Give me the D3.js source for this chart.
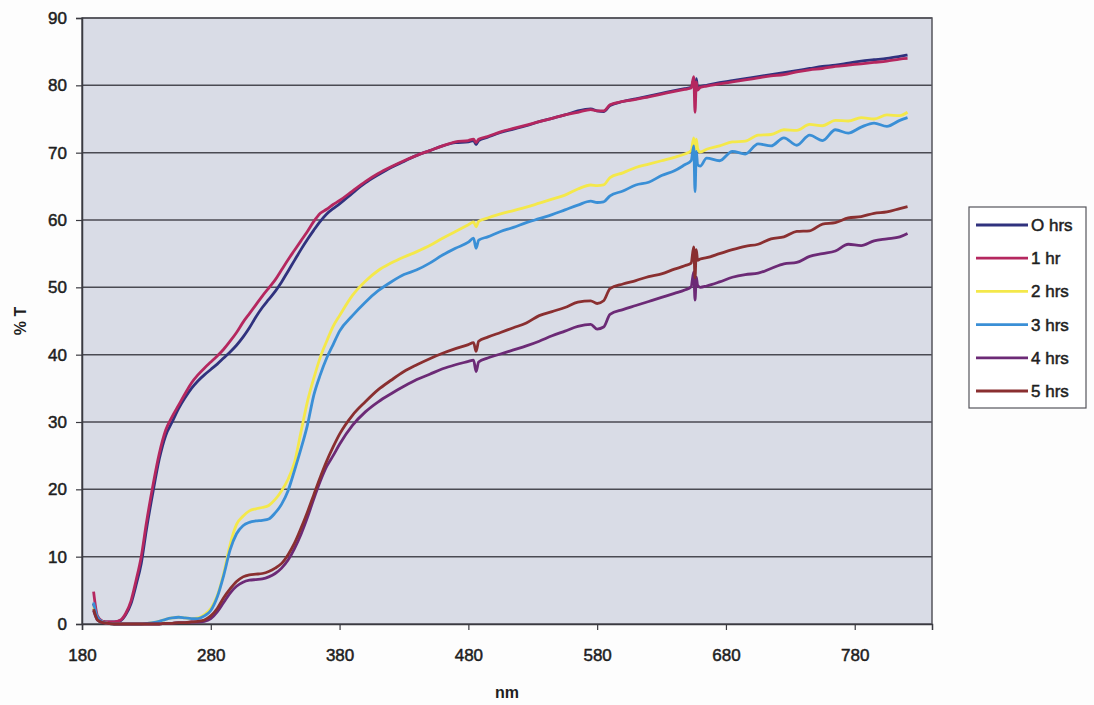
<!DOCTYPE html>
<html>
<head>
<meta charset="utf-8">
<script src="https://cdn.jsdelivr.net/npm/d3@7"></script>
<style>
  body { margin: 0; background: #fdfdfd; }
  svg { display: block; }
</style>
</head>
<body>
<svg id="chart" width="1094" height="705"></svg>
<script>
// wavelengths (nm) shared by every series
const nm = [189,192,196,200,205,210,214,218,222,226,
  230,235,240,245,250,255,260,265,270,275,
  280,285,290,295,300,305,310,315,320,325,
  330,335,340,345,350,355,360,365,370,375,
  380,390,400,410,420,430,440,450,460,470,
  480,484,486,488,495,505,515,525,535,545,
  555,565,575,580,585,590,600,610,620,630,
  640,648,653,655,656,657,658,660,665,675,
  685,695,705,715,725,735,745,755,765,775,
  785,795,805,815,821]

const hrs0 = [3.0,1.0,0.4,0.3,0.3,0.5,1.4,3.0,5.8,9.0,
  14.0,19.5,24.5,28.0,30.0,32.0,33.6,35.0,36.1,37.0,
  37.8,38.6,39.5,40.4,41.4,42.6,44.0,45.6,47.0,48.2,
  49.4,50.8,52.4,54.0,55.6,57.1,58.5,59.8,60.9,61.7,
  62.4,64.0,65.5,66.7,67.8,68.7,69.6,70.3,71.0,71.5,
  71.6,71.8,71.2,71.8,72.3,73.0,73.5,74.0,74.6,75.1,
  75.6,76.2,76.5,76.2,76.1,77.0,77.6,78.0,78.4,78.8,
  79.2,79.5,79.7,80.8,78.5,81.0,79.6,79.8,80.0,80.4,
  80.7,81.0,81.3,81.6,81.9,82.2,82.5,82.8,83.0,83.3,
  83.6,83.8,84.0,84.3,84.5]

const hrs1 = [4.8,1.2,0.4,0.3,0.3,0.6,1.6,3.4,6.5,10.0,
  15.0,20.5,25.3,28.8,30.8,32.5,34.2,35.8,37.0,38.0,
  38.9,39.8,40.8,42.0,43.3,44.8,46.1,47.4,48.7,49.9,
  51.1,52.6,54.1,55.5,56.9,58.3,59.8,61.0,61.6,62.3,
  62.9,64.3,65.7,66.9,67.9,68.8,69.6,70.3,71.0,71.6,
  71.8,72.0,71.5,72.0,72.4,73.1,73.6,74.1,74.6,75.1,
  75.6,76.0,76.4,76.2,76.2,77.1,77.6,77.9,78.3,78.7,
  79.1,79.4,79.6,81.3,76.0,80.5,79.3,79.7,79.9,80.2,
  80.5,80.8,81.1,81.4,81.6,82.0,82.3,82.5,82.8,83.0,
  83.2,83.4,83.6,83.9,84.0]

const hrs2 = [2.5,0.8,0.3,0.1,0.0,0.0,0.0,0.0,0.0,0.0,
  0.1,0.2,0.4,0.7,0.9,1.0,0.9,0.8,0.9,1.4,
  2.3,4.2,7.5,11.8,14.8,16.0,16.8,17.1,17.3,17.6,
  18.5,19.8,21.5,24.0,28.5,33.0,36.5,39.6,42.0,44.2,
  45.8,48.8,50.9,52.5,53.6,54.5,55.3,56.2,57.3,58.3,
  59.3,59.7,59.0,59.8,60.3,60.9,61.4,61.9,62.5,63.1,
  63.7,64.6,65.2,65.1,65.2,66.3,67.0,67.8,68.3,68.8,
  69.3,69.8,70.3,72.2,70.2,72.0,70.6,70.1,70.5,71.0,
  71.6,71.7,72.6,72.7,73.4,73.3,74.2,74.0,74.8,74.7,
  75.2,75.0,75.6,75.5,76.0]

const hrs3 = [3.2,1.0,0.3,0.1,0.0,0.0,0.0,0.0,0.0,0.0,
  0.1,0.2,0.4,0.7,0.9,1.0,0.9,0.8,0.8,1.2,
  2.0,4.0,7.2,11.0,13.4,14.6,15.1,15.3,15.4,15.6,
  16.5,17.8,19.8,22.8,26.0,29.5,34.0,37.0,39.5,41.5,
  43.5,45.8,47.8,49.5,50.8,51.9,52.6,53.6,54.8,55.8,
  56.7,57.3,55.8,57.0,57.5,58.3,58.9,59.6,60.2,60.8,
  61.5,62.2,62.8,62.6,62.7,63.6,64.3,65.2,65.6,66.6,
  67.3,68.2,68.8,71.0,64.2,70.2,68.2,68.0,69.2,68.8,
  70.2,69.8,71.3,71.0,72.2,71.1,72.6,71.8,73.4,72.9,
  73.8,74.4,73.9,74.8,75.2]

const hrs4 = [2.0,0.6,0.2,0.1,0.0,0.0,0.0,0.0,0.0,0.0,
  0.0,0.0,0.0,0.1,0.1,0.2,0.2,0.3,0.3,0.4,
  0.8,1.8,3.2,4.6,5.6,6.2,6.5,6.6,6.7,7.0,
  7.5,8.3,9.5,11.2,13.3,15.8,18.6,21.2,23.4,25.0,
  26.7,29.5,31.5,33.0,34.2,35.3,36.3,37.1,37.9,38.5,
  39.0,39.2,37.5,38.9,39.5,40.1,40.7,41.3,42.0,42.8,
  43.5,44.2,44.5,43.8,44.1,46.0,46.7,47.3,47.9,48.5,
  49.1,49.6,50.1,52.3,48.1,51.5,50.3,50.0,50.2,50.8,
  51.5,51.9,52.1,52.8,53.5,53.7,54.6,55.0,55.4,56.4,
  56.2,56.9,57.2,57.5,58.0]

const hrs5 = [2.2,0.6,0.2,0.1,0.0,0.0,0.0,0.0,0.0,0.0,
  0.0,0.0,0.0,0.1,0.1,0.2,0.2,0.3,0.4,0.6,
  1.2,2.3,3.9,5.2,6.3,7.0,7.3,7.4,7.5,7.8,
  8.3,9.0,10.3,12.0,14.2,16.6,19.2,21.8,24.2,26.3,
  28.2,31.0,33.0,34.8,36.2,37.5,38.5,39.4,40.2,40.9,
  41.5,41.8,40.5,42.0,42.6,43.3,44.0,44.7,45.8,46.4,
  47.0,47.8,48.0,47.6,48.0,49.8,50.5,51.0,51.6,52.0,
  52.7,53.2,53.6,56.0,51.4,55.6,54.0,54.2,54.4,55.0,
  55.6,56.1,56.4,57.2,57.5,58.3,58.4,59.4,59.6,60.3,
  60.5,61.0,61.2,61.7,62.0]

const seriesNames = ['O hrs', '1 hr', '2 hrs', '3 hrs', '4 hrs', '5 hrs']
const seriesValues = [hrs0, hrs1, hrs2, hrs3, hrs4, hrs5]
const colors = ['#30327e', '#b5275f', '#f4e84a', '#3a8fd6', '#6c2a76', '#8a2f30']
const xTicks = [180, 280, 380, 480, 580, 680, 780]
const yTicks = [0, 10, 20, 30, 40, 50, 60, 70, 80, 90]

const svg = d3.select('#chart')
const plot = { left: 82, top: 18, right: 932, bottom: 624 }
const font = '"Liberation Sans", Arial, sans-serif'

const x = d3.scaleLinear().domain([180, 840]).range([plot.left, plot.right])
const y = d3.scaleLinear().domain([0, 90]).range([plot.bottom, plot.top])

// plot background
svg.append('rect')
  .attr('x', plot.left).attr('y', plot.top)
  .attr('width', plot.right - plot.left).attr('height', plot.bottom - plot.top)
  .attr('fill', '#d9dce6')

// horizontal gridlines
svg.append('g')
  .selectAll('line')
  .data(yTicks.slice(1))
  .join('line')
  .attr('x1', plot.left).attr('x2', plot.right)
  .attr('y1', d => y(d)).attr('y2', d => y(d))
  .attr('stroke', '#4a4a52').attr('stroke-width', 1.5)

// plot border
svg.append('rect')
  .attr('x', plot.left).attr('y', plot.top)
  .attr('width', plot.right - plot.left).attr('height', plot.bottom - plot.top)
  .attr('fill', 'none').attr('stroke', '#55555c').attr('stroke-width', 1.5)

// axes
const xAxis = svg.append('g')
  .attr('transform', `translate(0,${plot.bottom})`)
  .call(d3.axisBottom(x).tickValues(xTicks).tickSize(6).tickPadding(19))
const yAxis = svg.append('g')
  .attr('transform', `translate(${plot.left},0)`)
  .call(d3.axisLeft(y).tickValues(yTicks).tickSize(6).tickPadding(9))

for (const ax of [xAxis, yAxis]) {
  ax.select('.domain').attr('stroke', '#3a3a40').attr('stroke-width', 1.5)
  ax.selectAll('.tick line').attr('stroke', '#3a3a40').attr('stroke-width', 1.2)
  ax.selectAll('.tick text')
    .attr('fill', '#1e1e1e')
    .attr('stroke', '#1e1e1e').attr('stroke-width', 0.5) // scanned text looks heavier
    .style('font-family', font)
    .style('font-size', '17px')
}

// axis titles
svg.append('text')
  .attr('x', (plot.left + plot.right) / 2).attr('y', 698)
  .attr('text-anchor', 'middle')
  .style('font-family', font)
  .style('font-size', '16px').style('font-weight', 'bold')
  .attr('fill', '#1e1e1e')
  .text('nm')

svg.append('text')
  .attr('transform', `translate(26,${(plot.top + plot.bottom) / 2}) rotate(-90)`)
  .attr('text-anchor', 'middle')
  .style('font-family', font)
  .style('font-size', '16px').style('font-weight', 'bold')
  .attr('fill', '#1e1e1e')
  .text('% T')

// series lines
const line = d3.line()
  .x((d, i) => x(nm[i]))
  .y(d => y(d))
  .curve(d3.curveMonotoneX)

svg.append('g')
  .selectAll('path')
  .data(seriesValues)
  .join('path')
  .attr('d', line)
  .attr('fill', 'none')
  .attr('stroke', (d, i) => colors[i])
  .attr('stroke-width', 2.8)
  .attr('stroke-linejoin', 'round')

// legend
const legend = svg.append('g')
legend.append('rect')
  .attr('x', 969).attr('y', 207).attr('width', 117).attr('height', 201)
  .attr('fill', '#ffffff').attr('stroke', '#55555c').attr('stroke-width', 1.2)

const items = legend.selectAll('g.item')
  .data(seriesNames)
  .join('g')
  .attr('class', 'item')
  .attr('transform', (d, i) => `translate(0,${225 + i * 33.2})`)

items.append('line')
  .attr('x1', 976).attr('x2', 1028)
  .attr('stroke', (d, i) => colors[i]).attr('stroke-width', 2.8)

items.append('text')
  .attr('x', 1031).attr('y', 6)
  .style('font-family', font)
  .style('font-size', '17px')
  .attr('fill', '#1e1e1e')
  .attr('stroke', '#1e1e1e').attr('stroke-width', 0.5)
  .text(d => d)
</script>
</body>
</html>
